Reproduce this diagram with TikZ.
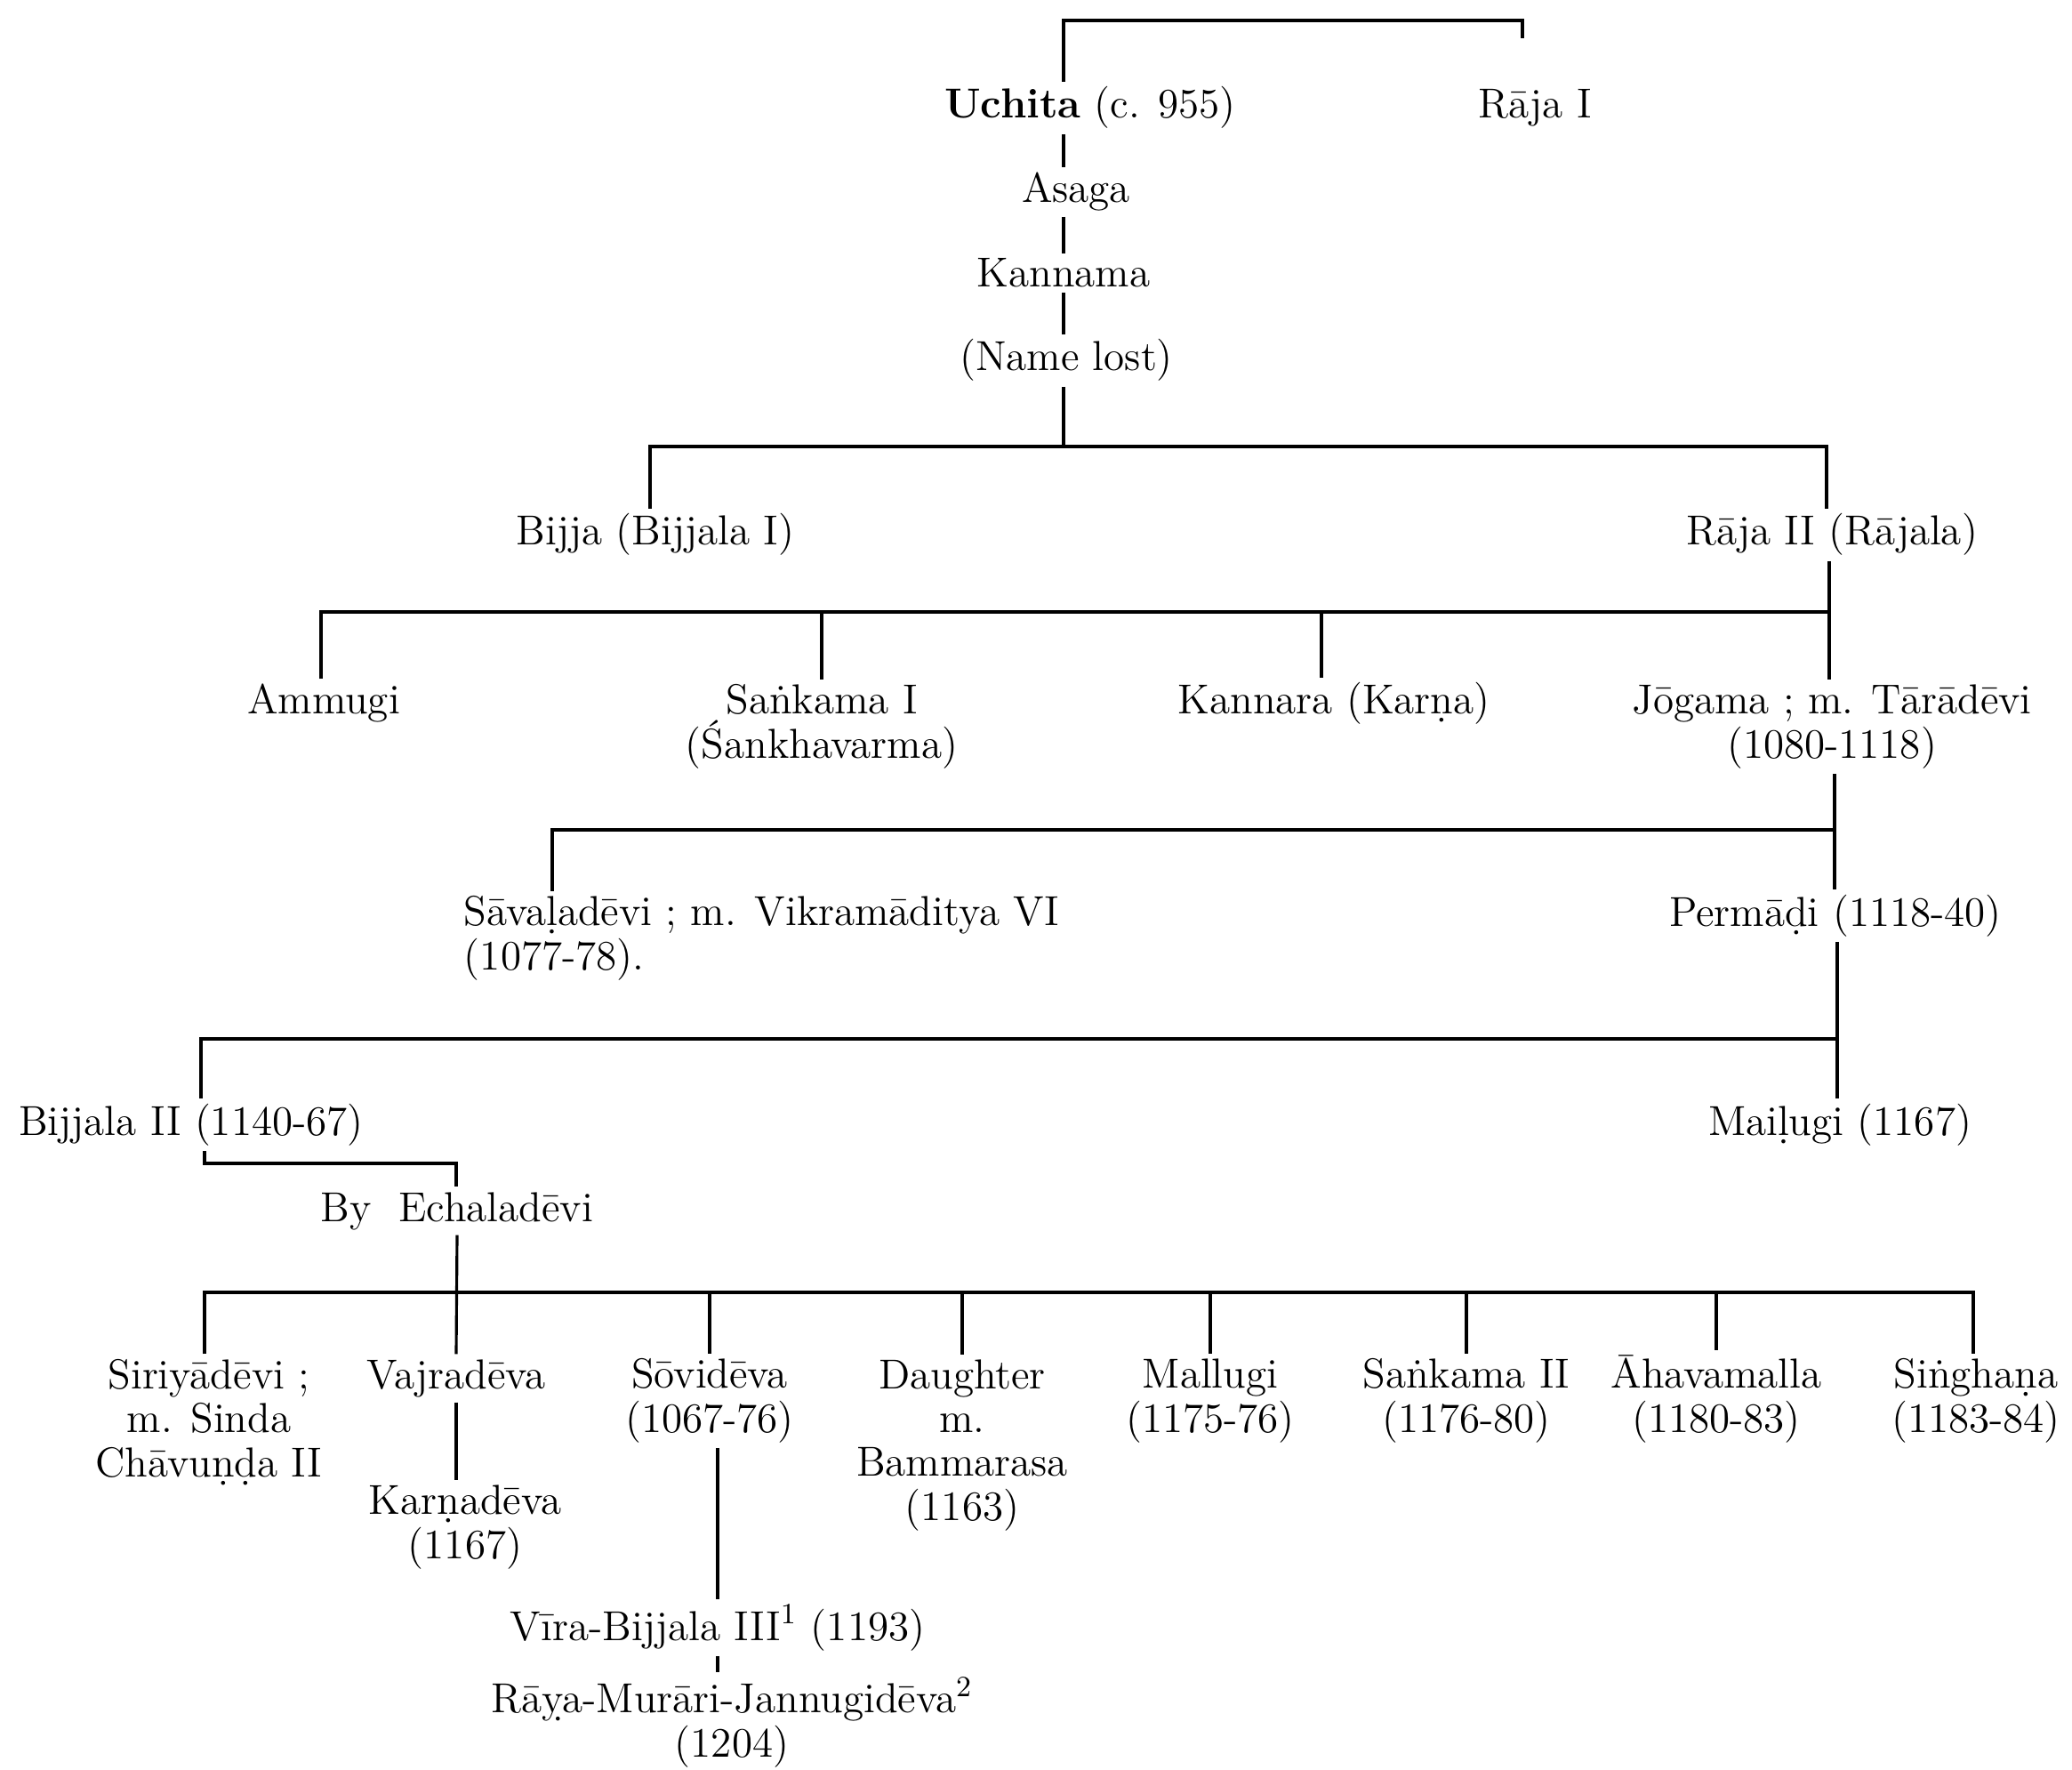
\documentclass[tikz,border=0pt]{standalone}
\usepackage{fontspec}
\usepackage{tikz}
\tikzstyle{person}=[inner sep=1.5pt, anchor=base, align=center, font=\fontsize{13.4}{14}\selectfont]
\tikzstyle{personLeft}=[person, anchor=base west, align=left]
\tikzstyle{descent}=[line width=0.9pt]
\begin{document}
\begin{tikzpicture}
\useasboundingbox (0,0) rectangle (23.3,-19.9);

    % First generations
	\node[person] (uchita) at (12.26,-1.33) {\textbf{Uchita} (c. 955)};
	\node[person] (raja1) at (17.26,-1.33) {Rāja I};
	\node[person] (asaga) at (12.1,-2.28) {Asaga};
	\node[person] (kannama) at (11.96,-3.23) {Kannama};
	\node[person] (lost) at (11.99,-4.17) {(Name lost)};
	\coordinate (topL) at (11.96,-0.23);
	\coordinate (topR) at (17.12,-0.23);
	\coordinate (tick) at (17.12,-0.43);
	\draw[descent] (uchita.north -| topL) -- (topL) -- (topR) -- (tick);
	\draw[descent] (uchita.south -| topL) -- (asaga.north -| topL);
	\draw[descent] (asaga.south -| topL) -- (kannama.north -| topL);
	\draw[descent] (kannama.south -| topL) -- (lost.north -| topL);

	\node[person] (bijja) at (7.37,-6.13) {Bijja (Bijjala I)};
	\node[person] (raja2) at (20.6,-6.13) {Rāja II (Rājala)};
	\coordinate (b1L) at (7.31,-5.02);
	\coordinate (b1R) at (20.54,-5.02);
	\draw[descent] (lost.south -| topL) -- (topL |- b1L);
	\draw[descent] (bijja.north -| b1L) -- (b1L) -- (b1R) -- (raja2.north -| b1R);

    % Sons of Raja II (multi-line nodes sit on their last line)
	\node[person] (ammugi) at (3.64,-8.03) {Ammugi};
	\node[person] (sankama) at (9.24,-8.52) {Saṅkama I\\(Śankhavarma)};
	\node[person] (kannara) at (15.0,-8.03) {Kannara (Karṇa)};
	\node[person] (jogama) at (20.6,-8.52) {Jōgama ; m. Tārādēvi\\(1080-1118)};
	\coordinate (b2L) at (3.61,-6.88);
	\coordinate (b2K) at (14.86,-6.88);
	\coordinate (b2R) at (20.57,-6.88);
	\draw[descent] (raja2.south -| b2R) -- (b2R);
	\draw[descent] (ammugi.north -| b2L) -- (b2L) -- (b2R) -- (jogama.north -| b2R);
	\draw[descent] (sankama.north) -- (sankama.north |- b2L);
	\draw[descent] (b2K) -- (kannara.north -| b2K);

	\node[personLeft] (sava) at (5.16,-10.9) {Sāvaḷadēvi ; m. Vikramāditya VI\\(1077-78).};
	\node[person] (permadi) at (20.64,-10.41) {Permāḍi (1118-40)};
	\coordinate (b3L) at (6.21,-9.33);
	\coordinate (b3R) at (20.63,-9.33);
	\draw[descent] (jogama.south -| b3R) -- (b3R) -- (b3L) -- (sava.north -| b3L);
	\draw[descent] (b3R) -- (permadi.north -| b3R);

	\node[person] (bijjala) at (2.15,-12.76) {Bijjala II (1140-67)};
	\node[person] (mailugi) at (20.69,-12.76) {Maiḷugi (1167)};
	\coordinate (b4L) at (2.26,-11.68);
	\coordinate (b4R) at (20.66,-11.68);
	\draw[descent] (permadi.south -| b4R) -- (b4R) -- (mailugi.north -| b4R);
	\draw[descent] (b4R) -- (b4L) -- (bijjala.north -| b4L);

    % Children of Bijjala II
	\node[person] (echala) at (5.14,-13.73) {By~~Echaladēvi};
	\coordinate (b5L) at (2.3,-13.08);
	\coordinate (b5R) at (5.13,-13.08);
	\draw[descent] (bijjala.south -| b5L) -- (b5L) -- (b5R) -- (echala.north -| b5R);

	\node[person] (siri) at (2.35,-16.6) {Siriyādēvi ;\\m. Sinda\\Chāvuṇḍa II};
	\node[person] (vajra) at (5.13,-15.61) {Vajradēva};
	\node[person] (sovi) at (7.98,-16.1) {Sōvidēva\\(1067-76)};
	\node[person] (daughter) at (10.82,-17.09) {Daughter\\m.\\Bammarasa\\(1163)};
	\node[person] (mallugi) at (13.61,-16.1) {Mallugi\\(1175-76)};
	\node[person] (sankamaII) at (16.49,-16.1) {Saṅkama II\\(1176-80)};
	\node[person] (ahava) at (19.3,-16.1) {Āhavamalla\\(1180-83)};
	\node[person] (singhana) at (22.22,-16.1) {Siṅghaṇa\\(1183-84)};
	\coordinate (b6L) at (2.3,-14.53);
	\coordinate (b6R) at (22.19,-14.53);
	\draw[descent] (echala.south) -- (vajra.north);
	\draw[descent] (siri.north -| b6L) -- (b6L) -- (b6R) -- (singhana.north -| b6R);
	\draw[descent] (sovi.north) -- (sovi.north |- b6L);
	\draw[descent] (daughter.north) -- (daughter.north |- b6L);
	\draw[descent] (mallugi.north) -- (mallugi.north |- b6L);
	\draw[descent] (sankamaII.north) -- (sankamaII.north |- b6L);
	\draw[descent] (ahava.north) -- (ahava.north |- b6L);

	\node[person] (karna) at (5.23,-17.52) {Karṇadēva\\(1167)};
	\draw[descent] (vajra.south) -- (vajra.south |- karna.north);

	\node[person] (vira) at (8.07,-18.44) {Vīra-Bijjala III\textsuperscript{1} (1193)};
	\node[person] (raya) at (8.23,-19.75) {Rāỵa-Murāri-Jannugidēva\textsuperscript{2}\\(1204)};
	\draw[descent] (sovi.south -| vira) -- (vira.north);
	\draw[descent] (vira.south) -- (vira.south |- raya.north);

\end{tikzpicture}
\end{document}
